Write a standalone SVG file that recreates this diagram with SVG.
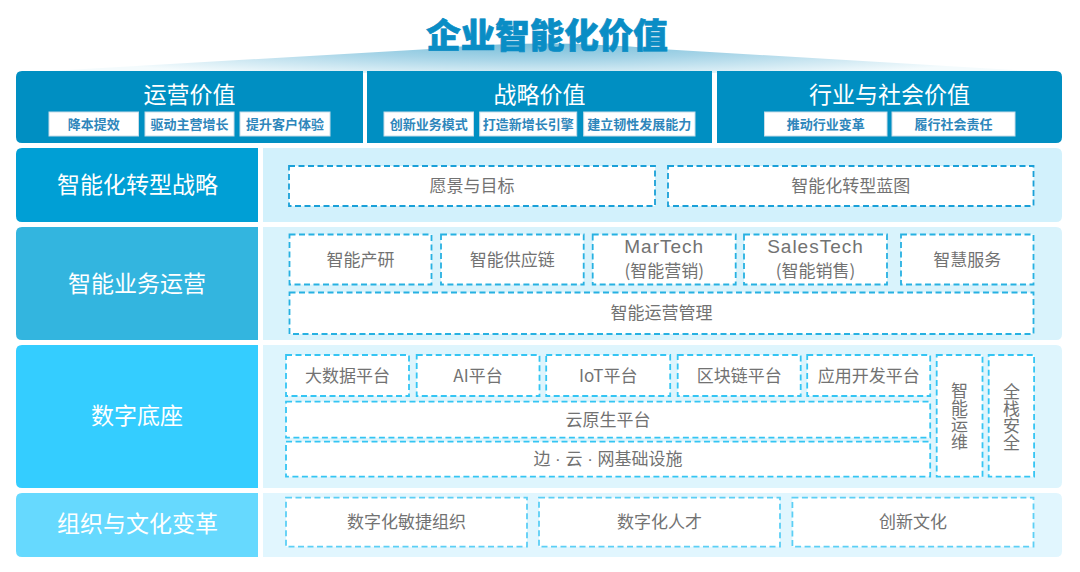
<svg xmlns="http://www.w3.org/2000/svg" width="1080" height="572" viewBox="0 0 1080 572">
<defs>
<radialGradient id="roofG" gradientUnits="userSpaceOnUse" cx="540" cy="42" r="520" gradientTransform="translate(540,42) scale(1,0.075) translate(-540,-42)">
<stop offset="0" stop-color="#72bcd9"/>
<stop offset="0.45" stop-color="#a6d4e7"/>
<stop offset="1" stop-color="#f4fbfd"/>
</radialGradient>
</defs>
<style>
text{font-family:"Noto Sans CJK SC","Noto Sans",sans-serif}
.t{font-size:17px;fill:#727272;text-anchor:middle}
.lat{font-family:"Liberation Sans","Noto Sans",sans-serif;font-size:19px;letter-spacing:1px}
.dot{font-family:"Liberation Sans",sans-serif}
.vt{writing-mode:vertical-rl}
.lbl{font-size:23px;fill:#ffffff;text-anchor:middle}
.sub{fill:#ffffff;stroke:#c7dce8;stroke-width:1}
.subt{font-size:13px;font-weight:bold;fill:#2e86bb;text-anchor:middle}
.d{fill:#ffffff;stroke-width:1.8;stroke-dasharray:6 3.5}
.d1{stroke:#1aa0d8}
.d2{stroke:#27b1e2}
.d3{stroke:#35c5f3}
.d4{stroke:#5ccff5}
</style>
<rect width="1080" height="572" fill="#ffffff"/>
<g id="roof">
<path d="M16,73 L430,49 Q540,38 660,49 L1062,73 Z" fill="url(#roofG)"/>
</g>
<g id="title">
<text x="547" y="48" font-size="34.5" font-weight="900" fill="#0a8dc5" stroke="#0a8dc5" stroke-width="0.7" text-anchor="middle">企业智能化价值</text>
</g>
<g id="value-operation">
<path d="M22,71 H363 V143 H22 Q16,143 16,137 V77 Q16,71 22,71 Z" fill="#008fc2"/>
<text class="lbl" x="189.5" y="103">运营价值</text>
<rect class="sub" x="49" y="112" width="89.5" height="24"/>
<text class="subt" x="93.8" y="128.5">降本提效</text>
<rect class="sub" x="145" y="112" width="89" height="24"/>
<text class="subt" x="189.5" y="128.5">驱动主营增长</text>
<rect class="sub" x="240" y="112" width="90" height="24"/>
<text class="subt" x="285" y="128.5">提升客户体验</text>
</g>
<g id="value-strategy">
<rect x="367" y="71" width="345" height="72" fill="#008fc2"/>
<text class="lbl" x="539.5" y="103">战略价值</text>
<rect class="sub" x="384" y="112" width="89.5" height="24"/>
<text class="subt" x="428.8" y="128.5">创新业务模式</text>
<rect class="sub" x="479.7" y="112" width="97" height="24"/>
<text class="subt" x="528.2" y="128.5">打造新增长引擎</text>
<rect class="sub" x="583.7" y="112" width="111.3" height="24"/>
<text class="subt" x="639.3" y="128.5">建立韧性发展能力</text>
</g>
<g id="value-industry">
<path d="M717,71 H1056 Q1062,71 1062,77 V137 Q1062,143 1056,143 H717 Z" fill="#008fc2"/>
<text class="lbl" x="889.5" y="103">行业与社会价值</text>
<rect class="sub" x="764.5" y="112" width="122.5" height="24"/>
<text class="subt" x="825.8" y="128.5">推动行业变革</text>
<rect class="sub" x="892" y="112" width="123" height="24"/>
<text class="subt" x="953.5" y="128.5">履行社会责任</text>
</g>
<g id="row-strategy">
<path d="M22,148 H258 V222 H22 Q16,222 16,216 V154 Q16,148 22,148 Z" fill="#009fd5"/>
<text class="lbl" x="137.5" y="193">智能化转型战略</text>
<path d="M263,148 H1056 Q1062,148 1062,154 V216 Q1062,222 1056,222 H263 Z" fill="#d2f1fc"/>
<g id="vision"><rect class="d d1" x="289" y="166" width="366" height="40"/><text class="t" x="472" y="191.5">愿景与目标</text></g>
<g id="blueprint"><rect class="d d1" x="668" y="166" width="365.5" height="40"/><text class="t" x="850.7" y="191.5">智能化转型蓝图</text></g>
</g>
<g id="row-business">
<path d="M22,227 H258 V340 H22 Q16,340 16,334 V233 Q16,227 22,227 Z" fill="#33b5df"/>
<text class="lbl" x="137" y="292">智能业务运营</text>
<path d="M263,227 H1056 Q1062,227 1062,233 V334 Q1062,340 1056,340 H263 Z" fill="#d9f3fc"/>
<g id="rnd"><rect class="d d2" x="289.5" y="234.5" width="142" height="50"/><text class="t" x="360.5" y="265.5">智能产研</text></g>
<g id="supply"><rect class="d d2" x="441" y="234.5" width="142.7" height="50"/><text class="t" x="512.3" y="265.5">智能供应链</text></g>
<g id="martech"><rect class="d d2" x="592.7" y="234.5" width="143" height="50"/><text class="t lat" x="664.2" y="253">MarTech</text><text class="t" x="664.2" y="277">(智能营销)</text></g>
<g id="salestech"><rect class="d d2" x="744" y="234.5" width="143" height="50"/><text class="t lat" x="815.5" y="253">SalesTech</text><text class="t" x="815.5" y="277">(智能销售)</text></g>
<g id="service"><rect class="d d2" x="901" y="234.5" width="132.5" height="50"/><text class="t" x="967.2" y="265.5">智慧服务</text></g>
<g id="ops-mgmt"><rect class="d d2" x="289.5" y="292.5" width="744" height="41.5"/><text class="t" x="661.4" y="319">智能运营管理</text></g>
</g>
<g id="row-digital">
<path d="M22,345 H258 V488 H22 Q16,488 16,482 V351 Q16,345 22,345 Z" fill="#34cdff"/>
<text class="lbl" x="137" y="424">数字底座</text>
<path d="M263,345 H1056 Q1062,345 1062,351 V482 Q1062,488 1056,488 H263 Z" fill="#def5fd"/>
<g id="bigdata"><rect class="d d3" x="286" y="355" width="123" height="41"/><text class="t" x="347.5" y="381.5">大数据平台</text></g>
<g id="ai"><rect class="d d3" x="416.7" y="355" width="122.8" height="41"/><text class="t" x="478" y="381.5">AI平台</text></g>
<g id="iot"><rect class="d d3" x="546.2" y="355" width="124" height="41"/><text class="t" x="608.2" y="381.5">IoT平台</text></g>
<g id="blockchain"><rect class="d d3" x="677.7" y="355" width="123" height="41"/><text class="t" x="739.2" y="381.5">区块链平台</text></g>
<g id="appdev"><rect class="d d3" x="807.2" y="355" width="123" height="41"/><text class="t" x="868.7" y="381.5">应用开发平台</text></g>
<g id="cloudnative"><rect class="d d3" x="286" y="401.7" width="644.2" height="36"/><text class="t" x="608" y="425.5">云原生平台</text></g>
<g id="infra"><rect class="d d3" x="286" y="441.7" width="644.2" height="35"/><text class="t" x="608" y="465">边<tspan class="dot"> · </tspan>云<tspan class="dot"> · </tspan>网基础设施</text></g>
<g id="aiops"><rect class="d d3" x="936.7" y="355" width="45.8" height="121.7"/><text class="t vt" x="959.6" y="416.5">智能运维</text></g>
<g id="security"><rect class="d d3" x="988.7" y="355" width="45.4" height="121.7"/><text class="t vt" x="1011.4" y="417">全栈安全</text></g>
</g>
<g id="row-org">
<path d="M22,493 H258 V557 H22 Q16,557 16,551 V499 Q16,493 22,493 Z" fill="#66d9fe"/>
<text class="lbl" x="137.5" y="532">组织与文化变革</text>
<path d="M263,493 H1056 Q1062,493 1062,499 V551 Q1062,557 1056,557 H263 Z" fill="#e1f6fe"/>
<g id="agile"><rect class="d d4" x="286" y="497.7" width="241" height="49"/><text class="t" x="406.4" y="528">数字化敏捷组织</text></g>
<g id="talent"><rect class="d d4" x="539" y="497.7" width="241" height="49"/><text class="t" x="659.5" y="528">数字化人才</text></g>
<g id="culture"><rect class="d d4" x="792.4" y="497.7" width="241.1" height="49"/><text class="t" x="913" y="528">创新文化</text></g>
</g>
<g id="connectors"/>
</svg>
